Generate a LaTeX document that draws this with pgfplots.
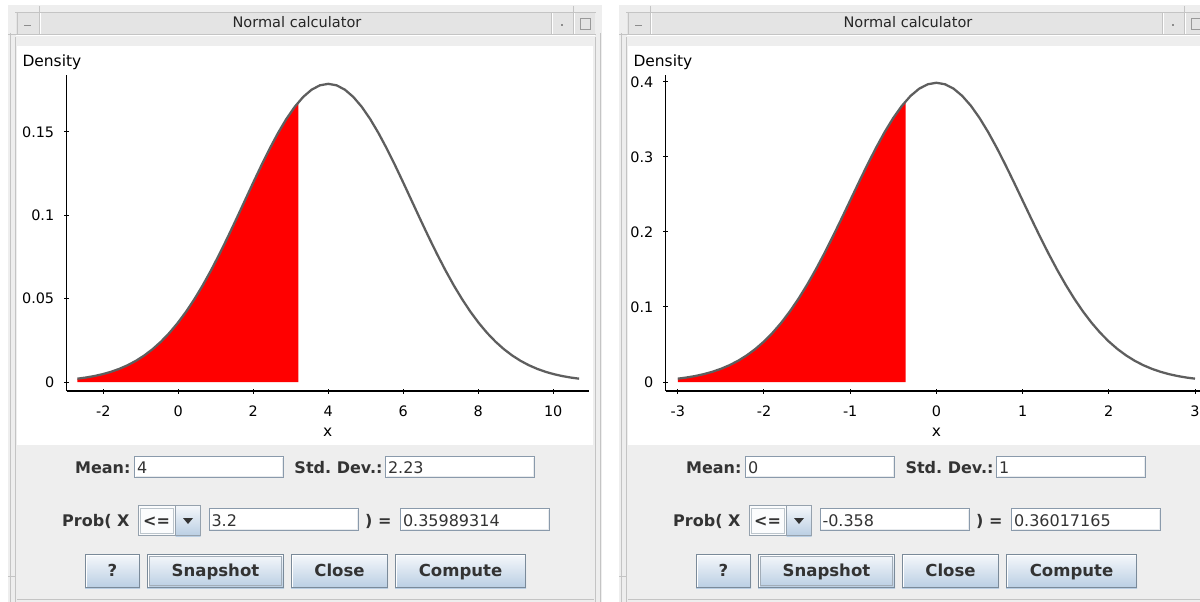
\documentclass[border=0pt]{standalone}
\usepackage{fontspec}
\setmainfont{DejaVu Sans}
\usepackage{pgfplots}
\pgfplotsset{compat=1.18}
\frenchspacing
\definecolor{winbg}{HTML}{EEEEEE}
\definecolor{titlebg}{HTML}{E4E4E4}
\definecolor{frameln}{HTML}{C4C4C4}
\definecolor{fieldbd}{HTML}{8A9AAB}
\definecolor{btntop}{HTML}{F6F8FB}
\definecolor{btnbot}{HTML}{B9CEE3}
\definecolor{btnbd}{HTML}{7A8A99}
\definecolor{uitext}{HTML}{333333}
\definecolor{curvec}{HTML}{5E5E5E}
\newcommand\titlefont{\fontsize{10.9}{13}\selectfont}
\newcommand\densfont{\fontsize{11.6}{13}\selectfont}
\newcommand\tickfont{\fontsize{10.8}{13}\selectfont}
\newcommand\uifont{\fontsize{12}{14}\selectfont}
\newcommand\btnfont{\fontsize{12.4}{14}\selectfont\bfseries}
% field: x1 y1 x2 y2 baseline text
\newcommand\field[6]{%
  \draw[fieldbd, fill=white] (#1+.5,#2+.5) rectangle (#3-.5,#4-.5);
  \draw[white!80!fieldbd] (#1+1.5,#4-1.5) -- (#3-1.5,#4-1.5) -- (#3-1.5,#2+1.5);
  \node[anchor=base west, inner sep=0, font=\uifont, text=uitext] at (#1+2.5,#5) {#6};}
% button: x1 x2 text
\newcommand\button[3]{%
  \shade[top color=btntop, bottom color=btnbot] (#1,554) rectangle (#2,588);
  \draw[btnbd] (#1+.5,554.5) rectangle (#2-.5,587.5);
  \draw[white] (#1+1.5,586.5) -- (#1+1.5,555.5) -- (#2-1.5,555.5);
  \node[anchor=base, inner sep=0, font=\btnfont, text=uitext] at ({(#1+#2)/2},576) {#3};}
% window: xshift, mean, sd, x value, prob
\newcommand\calcwin[5]{%
\begin{scope}[xshift=#1, x=0.75pt, y=-0.75pt, line width=0.75pt]
  \fill[winbg] (8,5) rectangle (602,602);
  \fill[titlebg] (16,12) rectangle (595,35);
  \draw[frameln] (15,12.5) -- (596,12.5);
  \draw[frameln] (8,34.5) -- (596,34.5);
  \draw[white] (16,35.5) -- (595,35.5);
  \draw[frameln] (17.5,12) -- (17.5,35);
  \draw[frameln] (39.5,6) -- (39.5,35); \draw[white] (40.5,13) -- (40.5,34);
  \draw[frameln] (551.5,13) -- (551.5,35); \draw[white] (552.5,13) -- (552.5,34);
  \draw[frameln] (573.5,6) -- (573.5,35); \draw[white] (574.5,13) -- (574.5,34);
  \draw[frameln] (10.5,33) -- (10.5,602);
  \draw[frameln] (15.5,37) -- (15.5,602);
  \draw[frameln] (595.5,37) -- (595.5,602);
  \draw[frameln] (600.5,33) -- (600.5,602);
  \draw[frameln] (8,576.5) -- (16,576.5);
  \draw[frameln] (17,599.5) -- (594,599.5);
  \draw[black!45] (24,25.5) -- (31,25.5);
  \fill[black!45] (561,24) rectangle (563,26);
  \draw[black!40] (580.5,18.5) rectangle (590.5,29.5);
  \fill[white] (17,46) rectangle (593,445);
  \node[anchor=base, inner sep=0, font=\titlefont, text=black!85] at (297,28) {Normal calculator};
  \node[anchor=base west, inner sep=0, font=\densfont] at (22,66.5) {Density};
  % controls
  \node[anchor=base east, inner sep=0, font=\uifont\bfseries, text=uitext] at (131,473) {Mean:};
  \field{134}{456}{284}{478}{473}{#2}
  \node[anchor=base east, inner sep=0, font=\uifont\bfseries, text=uitext] at (383,473) {Std. Dev.:};
  \field{385}{456}{535}{478}{473}{#3}
  \node[anchor=base east, inner sep=0, font=\uifont\bfseries, text=uitext] at (130,526.5) {Prob( X};
  \fill[white!60!btntop] (137.5,505) rectangle (175.5,536);
  \shade[top color=btntop, bottom color=btnbot] (175.5,505) rectangle (200.5,536);
  \draw[btnbd!80] (138,505.5) rectangle (200,535.5);
  \draw[btnbd!80] (175.5,505.5) -- (175.5,535.5);
  \draw[btnbd!50] (140.5,508.5) rectangle (173,533);
  \node[anchor=base, inner sep=0, font=\uifont\bfseries, text=uitext] at (156.5,526.5) {<=};
  \fill[uitext] (183,518) -- (193,518) -- (188,524) -- cycle;
  \field{208.5}{508}{359}{531}{526.5}{#4}
  \node[anchor=base east, inner sep=0, font=\uifont\bfseries, text=uitext] at (392,526.5) {) =};
  \field{400}{508}{550}{531}{526.5}{#5}
  \button{85}{140}{?}
  \button{147}{284}{Snapshot}
  \draw[btnbd!70] (149.5,556.5) rectangle (281.5,585.5);
  \button{291}{388}{Close}
  \button{395}{526}{Compute}
\end{scope}}

\begin{document}
\begin{tikzpicture}
\useasboundingbox (0,0) rectangle (900pt,-451.5pt);
\clip (0,0) rectangle (900pt,-451.5pt);
\fill[white] (0,0) rectangle (900pt,-451.5pt);
\calcwin{0pt}{4}{2.23}{3.2}{0.35989314}
\calcwin{458.25pt}{0}{1}{-0.358}{0.36017165}

\pgfplotsset{calc/.style={
  anchor=south west, scale only axis, height=237pt,
  axis x line*=bottom, axis y line*=left,
  axis line style={line width=0.9pt, black},
  tick align=center, major tick length=3.75pt,
  every tick/.style={black, line width=0.75pt},
  xticklabel style={font=\tickfont, inner sep=0pt, anchor=base, yshift=-17.25pt},
  yticklabel style={font=\tickfont, inner sep=0pt, anchor=east, xshift=-7.3pt},
  xlabel={x},
  xlabel style={font=\densfont, at={(rel axis cs:0.5,0)}, anchor=center, yshift=-30.75pt, inner sep=0pt},
  clip=false}}

\begin{axis}[calc, at={(50pt,-293.25pt)}, width=391.7pt,
  xmin=-2.976, xmax=10.952, ymin=-0.0054, ymax=0.1842,
  xtick={-2,0,2,4,6,8,10}, xticklabels={-2,0,2,4,6,8,10},
  ytick={0,0.05,0.1,0.15}, yticklabels={0,0.05,0.1,0.15}]
\addplot[fill=red, draw=none] coordinates {
(-2.69,0) (-2.69,0.001987) (-2.467,0.002670) (-2.244,0.003549) (-2.021,0.004673) (-1.798,0.006091)
(-1.575,0.007860) (-1.352,0.010043) (-1.129,0.012703) (-0.906,0.015908) (-0.683,0.019724)
(-0.46,0.024211) (-0.237,0.029424) (-0.014,0.035404) (0.209,0.042175) (0.432,0.049740)
(0.655,0.058080) (0.878,0.067142) (1.101,0.076847) (1.324,0.087079) (1.547,0.097692)
(1.77,0.108507) (1.993,0.119321) (2.216,0.129907) (2.439,0.140024) (2.662,0.149428)
(2.885,0.157877) (3.108,0.165143) (3.2,0.167749) (3.2,0)} -- cycle;
\addplot[curvec, line width=1.7pt] coordinates {
(-2.69,0.001987) (-2.467,0.002670) (-2.244,0.003549) (-2.021,0.004673) (-1.798,0.006091)
(-1.575,0.007860) (-1.352,0.010043) (-1.129,0.012703) (-0.906,0.015908) (-0.683,0.019724)
(-0.46,0.024211) (-0.237,0.029424) (-0.014,0.035404) (0.209,0.042175) (0.432,0.049740)
(0.655,0.058080) (0.878,0.067142) (1.101,0.076847) (1.324,0.087079) (1.547,0.097692)
(1.77,0.108507) (1.993,0.119321) (2.216,0.129907) (2.439,0.140024) (2.662,0.149428)
(2.885,0.157877) (3.108,0.165143) (3.331,0.171026) (3.554,0.175356) (3.777,0.178006)
(4,0.178898) (4.223,0.178006) (4.446,0.175356) (4.669,0.171026) (4.892,0.165143)
(5.115,0.157877) (5.338,0.149428) (5.561,0.140024) (5.784,0.129907) (6.007,0.119321)
(6.23,0.108507) (6.453,0.097692) (6.676,0.087079) (6.899,0.076847) (7.122,0.067142)
(7.345,0.058080) (7.568,0.049740) (7.791,0.042175) (8.014,0.035404) (8.237,0.029424)
(8.46,0.024211) (8.683,0.019724) (8.906,0.015908) (9.129,0.012703) (9.352,0.010043)
(9.575,0.007860) (9.798,0.006091) (10.021,0.004673) (10.244,0.003549) (10.467,0.002670)
(10.69,0.001987)};
\end{axis}

\begin{axis}[calc, at={(499.35pt,-293.25pt)}, width=405.9pt,
  xmin=-3.139, xmax=3.139, ymin=-0.012, ymax=0.4093,
  xtick={-3,-2,-1,0,1,2,3}, xticklabels={-3,-2,-1,0,1,2,3},
  ytick={0,0.1,0.2,0.3,0.4}, yticklabels={0,0.1,0.2,0.3,0.4}]
\addplot[fill=red, draw=none] coordinates {
(-3,0) (-3,0.004432) (-2.9,0.005953) (-2.8,0.007915) (-2.7,0.010421) (-2.6,0.013583)
(-2.5,0.017528) (-2.4,0.022395) (-2.3,0.028327) (-2.2,0.035475) (-2.1,0.043984)
(-2,0.053991) (-1.9,0.065616) (-1.8,0.078950) (-1.7,0.094049) (-1.6,0.110921)
(-1.5,0.129518) (-1.4,0.149727) (-1.3,0.171369) (-1.2,0.194186) (-1.1,0.217852)
(-1,0.241971) (-0.9,0.266085) (-0.8,0.289692) (-0.7,0.312254) (-0.6,0.333225)
(-0.5,0.352065) (-0.4,0.368270) (-0.358,0.374178) (-0.358,0)} -- cycle;
\addplot[curvec, line width=1.7pt] coordinates {
(-3,0.004432) (-2.9,0.005953) (-2.8,0.007915) (-2.7,0.010421) (-2.6,0.013583)
(-2.5,0.017528) (-2.4,0.022395) (-2.3,0.028327) (-2.2,0.035475) (-2.1,0.043984)
(-2,0.053991) (-1.9,0.065616) (-1.8,0.078950) (-1.7,0.094049) (-1.6,0.110921)
(-1.5,0.129518) (-1.4,0.149727) (-1.3,0.171369) (-1.2,0.194186) (-1.1,0.217852)
(-1,0.241971) (-0.9,0.266085) (-0.8,0.289692) (-0.7,0.312254) (-0.6,0.333225)
(-0.5,0.352065) (-0.4,0.368270) (-0.3,0.381388) (-0.2,0.391043) (-0.1,0.396953)
(0,0.398942) (0.1,0.396953) (0.2,0.391043) (0.3,0.381388) (0.4,0.368270)
(0.5,0.352065) (0.6,0.333225) (0.7,0.312254) (0.8,0.289692) (0.9,0.266085)
(1,0.241971) (1.1,0.217852) (1.2,0.194186) (1.3,0.171369) (1.4,0.149727)
(1.5,0.129518) (1.6,0.110921) (1.7,0.094049) (1.8,0.078950) (1.9,0.065616)
(2,0.053991) (2.1,0.043984) (2.2,0.035475) (2.3,0.028327) (2.4,0.022395)
(2.5,0.017528) (2.6,0.013583) (2.7,0.010421) (2.8,0.007915) (2.9,0.005953)
(3,0.004432)};
\end{axis}
\end{tikzpicture}
\end{document}
